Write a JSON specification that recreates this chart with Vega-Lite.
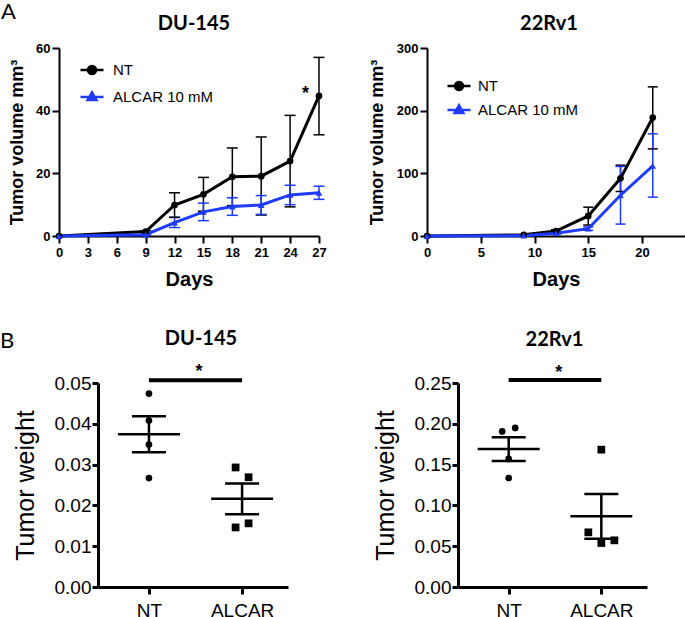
{
  "$schema": "https://vega.github.io/schema/vega-lite/v6.json",
  "padding": {"left": 0, "top": 0, "right": 0, "bottom": 0},
  "config": {
    "view": {"stroke": null},
    "axis": {"grid": false, "domainColor": "black", "tickColor": "black", "labelColor": "black", "titleColor": "black", "labelOverlap": false},
    "title": {"color": "black"}
  },
  "datasets": {
    "growth": [
      {"line": "DU-145", "group": "NT", "day": 0, "mean": 0, "lo": 0, "hi": 0},
      {"line": "DU-145", "group": "NT", "day": 9, "mean": 1.4, "lo": 1.1, "hi": 1.7},
      {"line": "DU-145", "group": "NT", "day": 12, "mean": 9.9, "lo": 6.0, "hi": 13.8},
      {"line": "DU-145", "group": "NT", "day": 15, "mean": 13.3, "lo": 7.9, "hi": 18.7},
      {"line": "DU-145", "group": "NT", "day": 18, "mean": 18.9, "lo": 9.7, "hi": 28.1},
      {"line": "DU-145", "group": "NT", "day": 21, "mean": 19.1, "lo": 6.7, "hi": 31.6},
      {"line": "DU-145", "group": "NT", "day": 24, "mean": 23.9, "lo": 9.3, "hi": 38.5},
      {"line": "DU-145", "group": "NT", "day": 27, "mean": 44.7, "lo": 32.3, "hi": 57.0},
      {"line": "DU-145", "group": "ALCAR 10 mM", "day": 0, "mean": 0, "lo": 0, "hi": 0},
      {"line": "DU-145", "group": "ALCAR 10 mM", "day": 9, "mean": 0.4, "lo": 0.2, "hi": 0.6},
      {"line": "DU-145", "group": "ALCAR 10 mM", "day": 12, "mean": 4.3, "lo": 2.7, "hi": 5.9},
      {"line": "DU-145", "group": "ALCAR 10 mM", "day": 15, "mean": 7.7, "lo": 4.9, "hi": 10.5},
      {"line": "DU-145", "group": "ALCAR 10 mM", "day": 18, "mean": 9.4, "lo": 6.6, "hi": 12.2},
      {"line": "DU-145", "group": "ALCAR 10 mM", "day": 21, "mean": 9.9, "lo": 6.9, "hi": 12.9},
      {"line": "DU-145", "group": "ALCAR 10 mM", "day": 24, "mean": 13.1, "lo": 10.0, "hi": 16.2},
      {"line": "DU-145", "group": "ALCAR 10 mM", "day": 27, "mean": 13.8, "lo": 11.7, "hi": 15.9},
      {"line": "22Rv1", "group": "NT", "day": 0, "mean": 0, "lo": 0, "hi": 0},
      {"line": "22Rv1", "group": "NT", "day": 9, "mean": 2, "lo": 1, "hi": 3},
      {"line": "22Rv1", "group": "NT", "day": 12, "mean": 8, "lo": 6, "hi": 10},
      {"line": "22Rv1", "group": "NT", "day": 15, "mean": 32, "lo": 17.5, "hi": 46},
      {"line": "22Rv1", "group": "NT", "day": 18, "mean": 92, "lo": 71, "hi": 113},
      {"line": "22Rv1", "group": "NT", "day": 21, "mean": 189, "lo": 139, "hi": 238},
      {"line": "22Rv1", "group": "ALCAR 10 mM", "day": 0, "mean": 0, "lo": 0, "hi": 0},
      {"line": "22Rv1", "group": "ALCAR 10 mM", "day": 9, "mean": 0.5, "lo": 0, "hi": 1},
      {"line": "22Rv1", "group": "ALCAR 10 mM", "day": 12, "mean": 4.5, "lo": 3, "hi": 6},
      {"line": "22Rv1", "group": "ALCAR 10 mM", "day": 15, "mean": 11.7, "lo": 9, "hi": 14.5},
      {"line": "22Rv1", "group": "ALCAR 10 mM", "day": 18, "mean": 65, "lo": 19, "hi": 111},
      {"line": "22Rv1", "group": "ALCAR 10 mM", "day": 21, "mean": 112, "lo": 62, "hi": 163}
    ],
    "weight": [
      {"line": "DU-145", "group": "NT", "w": 0.0474, "jit": "C"},
      {"line": "DU-145", "group": "NT", "w": 0.0408, "jit": "C"},
      {"line": "DU-145", "group": "NT", "w": 0.0349, "jit": "C"},
      {"line": "DU-145", "group": "NT", "w": 0.0267, "jit": "C"},
      {"line": "DU-145", "group": "ALCAR", "w": 0.0293, "jit": "L1"},
      {"line": "DU-145", "group": "ALCAR", "w": 0.0269, "jit": "R1"},
      {"line": "DU-145", "group": "ALCAR", "w": 0.0156, "jit": "R1"},
      {"line": "DU-145", "group": "ALCAR", "w": 0.0146, "jit": "L1"},
      {"line": "22Rv1", "group": "NT", "w": 0.1907, "jit": "L1"},
      {"line": "22Rv1", "group": "NT", "w": 0.1949, "jit": "R1"},
      {"line": "22Rv1", "group": "NT", "w": 0.1569, "jit": "C"},
      {"line": "22Rv1", "group": "NT", "w": 0.1336, "jit": "C"},
      {"line": "22Rv1", "group": "ALCAR", "w": 0.1683, "jit": "C"},
      {"line": "22Rv1", "group": "ALCAR", "w": 0.0670, "jit": "L2"},
      {"line": "22Rv1", "group": "ALCAR", "w": 0.0539, "jit": "C"},
      {"line": "22Rv1", "group": "ALCAR", "w": 0.0572, "jit": "R2"}
    ],
    "sig": [
      {"line": "DU-145", "from": "NT", "to": "ALCAR", "bar": 0.0507, "star": 0.0515, "label": "*"},
      {"line": "22Rv1", "from": "NT", "to": "ALCAR", "bar": 0.2537, "star": 0.256, "label": "*"}
    ],
    "gstar": [
      {"line": "DU-145", "day": 25.6, "mean": 43.8, "label": "*"}
    ]
  },
  "columns": 1,
  "bounds": "full",
  "spacing": 39,
  "concat": [
    {
      "title": {"text": "A", "anchor": "start", "frame": "bounds", "font": "Lato", "fontSize": 22, "fontWeight": "normal", "offset": -9.5, "dx": -7},
      "bounds": "flush",
      "spacing": 108,
      "resolve": {"legend": {"color": "independent"}},
      "hconcat": [
        {
          "width": 260, "height": 188,
          "title": {"text": "DU-145", "font": "Lato", "fontSize": 20, "fontWeight": "bold", "offset": 8, "dx": 5},
          "encoding": {
            "x": {"field": "day", "type": "quantitative", "scale": {"domain": [0, 27], "nice": false},
              "axis": {"values": [0, 3, 6, 9, 12, 15, 18, 21, 24, 27], "labelOverlap": false, "title": "Days", "titleFont": "Liberation Sans", "titleFontSize": 20, "titleFontWeight": "bold", "labelFont": "Liberation Sans", "labelFontSize": 13, "labelFontWeight": "bold", "tickSize": 7, "tickWidth": 2, "domainWidth": 2, "labelPadding": 3, "titlePadding": 10, "labelFlush": false}}
          },
          "layer": [
            {
              "data": {"name": "growth"},
              "transform": [{"filter": "datum.line == 'DU-145'"}],
              "mark": {"type": "rule", "strokeWidth": 1.5},
              "encoding": {
                "y": {"field": "lo", "type": "quantitative", "title": "Tumor volume mm³"},
                "y2": {"field": "hi"},
                "color": {"field": "group", "type": "nominal"}
              }
            },
            {
              "data": {"name": "growth"},
              "transform": [{"filter": "datum.line == 'DU-145' && datum.day > 0"}],
              "mark": {"type": "tick", "orient": "horizontal", "size": 11, "thickness": 1.5, "opacity": 1},
              "encoding": {
                "y": {"field": "hi", "type": "quantitative", "title": "Tumor volume mm³"},
                "color": {"field": "group", "type": "nominal"}
              }
            },
            {
              "data": {"name": "growth"},
              "transform": [{"filter": "datum.line == 'DU-145' && datum.day > 0"}],
              "mark": {"type": "tick", "orient": "horizontal", "size": 11, "thickness": 1.5, "opacity": 1},
              "encoding": {
                "y": {"field": "lo", "type": "quantitative", "title": "Tumor volume mm³"},
                "color": {"field": "group", "type": "nominal"}
              }
            },
            {
              "data": {"name": "growth"},
              "transform": [{"filter": "datum.line == 'DU-145'"}],
              "mark": {"type": "line", "strokeWidth": 3},
              "encoding": {
                "y": {"field": "mean", "type": "quantitative", "scale": {"domain": [0, 60], "nice": false},
                  "axis": {"values": [0, 20, 40, 60], "labelOverlap": false, "title": "Tumor volume mm³", "titleFont": "Liberation Sans", "titleFontSize": 18, "titleFontWeight": "bold", "labelFont": "Liberation Sans", "labelFontSize": 13, "labelFontWeight": "bold", "tickSize": 7, "tickWidth": 2, "domainWidth": 2, "labelPadding": 2, "minExtent": 24, "maxExtent": 24, "titlePadding": 9, "labelFlush": false}},
                "color": {"field": "group", "type": "nominal",
                  "scale": {"domain": ["NT", "ALCAR 10 mM"], "range": ["#000000", "#1e3cff"]},
                  "legend": {"title": null, "orient": "none", "legendX": 20, "legendY": 9, "padding": 0, "rowPadding": 4, "labelOffset": 8, "labelFont": "Liberation Sans", "labelFontSize": 15, "labelColor": "black", "symbolSize": 529, "symbolStrokeWidth": 2.5,
                    "encode": {"symbols": {"update": {
                      "shape": {"signal": "datum.value == 'NT' ? 'M-1,0H1M-0.35,0A0.35,0.35,0,1,0,0.35,0A0.35,0.35,0,1,0,-0.35,0Z' : 'M-1,0H1M0,-0.4L0.38,0.27L-0.38,0.27Z'"},
                      "fill": {"signal": "datum.value == 'NT' ? '#000000' : '#1e3cff'"},
                      "stroke": {"signal": "datum.value == 'NT' ? '#000000' : '#1e3cff'"},
                      "strokeWidth": {"value": 2.5},
                      "opacity": {"value": 1}
                    }}}}}
              }
            },
            {
              "data": {"name": "growth"},
              "transform": [{"filter": "datum.line == 'DU-145' && datum.group == 'NT'"}],
              "mark": {"type": "point", "filled": true, "opacity": 1, "size": 45, "shape": "circle"},
              "encoding": {
                "y": {"field": "mean", "type": "quantitative", "title": "Tumor volume mm³"},
                "color": {"field": "group", "type": "nominal"}
              }
            },
            {
              "data": {"name": "growth"},
              "transform": [{"filter": "datum.line == 'DU-145' && datum.group != 'NT'"}],
              "mark": {"type": "point", "filled": true, "opacity": 1, "size": 45, "shape": "triangle-up"},
              "encoding": {
                "y": {"field": "mean", "type": "quantitative", "title": "Tumor volume mm³"},
                "color": {"field": "group", "type": "nominal"}
              }
            },
            {
              "data": {"name": "gstar"},
              "mark": {"type": "text", "font": "Liberation Sans", "fontSize": 18, "fontWeight": "bold", "baseline": "alphabetic", "align": "center", "color": "black"},
              "encoding": {
                "y": {"field": "mean", "type": "quantitative", "title": "Tumor volume mm³"},
                "text": {"field": "label"}
              }
            }
          ]
        },
        {
          "width": 258, "height": 188,
          "title": {"text": "22Rv1", "font": "Lato", "fontSize": 20, "fontWeight": "bold", "offset": 8, "frame": "group", "dx": -7},
          "encoding": {
            "x": {"field": "day", "type": "quantitative", "scale": {"domain": [0, 24], "nice": false},
              "axis": {"values": [0, 5, 10, 15, 20], "labelOverlap": false, "title": "Days", "titleFont": "Liberation Sans", "titleFontSize": 20, "titleFontWeight": "bold", "labelFont": "Liberation Sans", "labelFontSize": 13, "labelFontWeight": "bold", "tickSize": 7, "tickWidth": 2, "domainWidth": 2, "labelPadding": 3, "titlePadding": 10, "labelFlush": false}}
          },
          "layer": [
            {
              "data": {"name": "growth"},
              "transform": [{"filter": "datum.line == '22Rv1'"}],
              "mark": {"type": "rule", "strokeWidth": 1.5},
              "encoding": {
                "y": {"field": "lo", "type": "quantitative", "title": "Tumor volume mm³"},
                "y2": {"field": "hi"},
                "color": {"field": "group", "type": "nominal"}
              }
            },
            {
              "data": {"name": "growth"},
              "transform": [{"filter": "datum.line == '22Rv1' && datum.day > 9"}],
              "mark": {"type": "tick", "orient": "horizontal", "size": 10, "thickness": 1.5, "opacity": 1},
              "encoding": {
                "y": {"field": "hi", "type": "quantitative", "title": "Tumor volume mm³"},
                "color": {"field": "group", "type": "nominal"}
              }
            },
            {
              "data": {"name": "growth"},
              "transform": [{"filter": "datum.line == '22Rv1' && datum.day > 9"}],
              "mark": {"type": "tick", "orient": "horizontal", "size": 10, "thickness": 1.5, "opacity": 1},
              "encoding": {
                "y": {"field": "lo", "type": "quantitative", "title": "Tumor volume mm³"},
                "color": {"field": "group", "type": "nominal"}
              }
            },
            {
              "data": {"name": "growth"},
              "transform": [{"filter": "datum.line == '22Rv1'"}],
              "mark": {"type": "line", "strokeWidth": 3},
              "encoding": {
                "y": {"field": "mean", "type": "quantitative", "scale": {"domain": [0, 300], "nice": false},
                  "axis": {"values": [0, 100, 200, 300], "labelOverlap": false, "title": "Tumor volume mm³", "titleFont": "Liberation Sans", "titleFontSize": 18, "titleFontWeight": "bold", "labelFont": "Liberation Sans", "labelFontSize": 13, "labelFontWeight": "bold", "tickSize": 7, "tickWidth": 2, "domainWidth": 2, "labelPadding": 2, "minExtent": 32, "maxExtent": 32, "titlePadding": 9, "labelFlush": false}},
                "color": {"field": "group", "type": "nominal",
                  "scale": {"domain": ["NT", "ALCAR 10 mM"], "range": ["#000000", "#1e3cff"]},
                  "legend": {"title": null, "orient": "none", "legendX": 19, "legendY": 25, "padding": 0, "rowPadding": 1, "labelOffset": 6, "labelFont": "Liberation Sans", "labelFontSize": 15, "labelColor": "black", "symbolSize": 529, "symbolStrokeWidth": 2.5,
                    "encode": {"symbols": {"update": {
                      "shape": {"signal": "datum.value == 'NT' ? 'M-1,0H1M-0.35,0A0.35,0.35,0,1,0,0.35,0A0.35,0.35,0,1,0,-0.35,0Z' : 'M-1,0H1M0,-0.4L0.38,0.27L-0.38,0.27Z'"},
                      "fill": {"signal": "datum.value == 'NT' ? '#000000' : '#1e3cff'"},
                      "stroke": {"signal": "datum.value == 'NT' ? '#000000' : '#1e3cff'"},
                      "strokeWidth": {"value": 2.5},
                      "opacity": {"value": 1}
                    }}}}}
              }
            },
            {
              "data": {"name": "growth"},
              "transform": [{"filter": "datum.line == '22Rv1' && datum.group == 'NT'"}],
              "mark": {"type": "point", "filled": true, "opacity": 1, "size": 45, "shape": "circle"},
              "encoding": {
                "y": {"field": "mean", "type": "quantitative", "title": "Tumor volume mm³"},
                "color": {"field": "group", "type": "nominal"}
              }
            },
            {
              "data": {"name": "growth"},
              "transform": [{"filter": "datum.line == '22Rv1' && datum.group != 'NT'"}],
              "mark": {"type": "point", "filled": true, "opacity": 1, "size": 45, "shape": "triangle-up"},
              "encoding": {
                "y": {"field": "mean", "type": "quantitative", "title": "Tumor volume mm³"},
                "color": {"field": "group", "type": "nominal"}
              }
            }
          ]
        }
      ]
    },
    {
      "title": {"text": "B", "anchor": "start", "frame": "bounds", "font": "Lato", "fontSize": 22, "fontWeight": "normal", "offset": -24, "dx": -13},
      "bounds": "flush",
      "spacing": 38,
      "hconcat": [
        {
          "width": 1, "height": 1,
          "data": {"values": [{}]},
          "mark": {"type": "point", "opacity": 0}
        },
        {
          "bounds": "flush",
          "spacing": 170,
          "hconcat": [
            {
              "width": 190, "height": 204,
              "title": {"text": "DU-145", "font": "Lato", "fontSize": 20, "fontWeight": "bold", "offset": 14, "dx": 8},
              "layer": [
                {
                  "data": {"name": "weight"},
                  "transform": [{"filter": "datum.line == 'DU-145' && datum.group == 'NT'"}],
                  "mark": {"type": "point", "filled": true, "opacity": 1, "color": "black", "shape": "circle", "size": 45},
                  "encoding": {
                    "x": {"field": "group", "type": "nominal", "scale": {"type": "point", "domain": ["NT", "ALCAR"], "padding": 0.52, "align": 0.526},
                      "axis": {"title": null, "labelAngle": 0, "labelFont": "Liberation Sans", "labelFontSize": 19, "tickSize": 7, "tickWidth": 3, "domainWidth": 3, "labelPadding": 7}},
                    "xOffset": {"field": "jit", "type": "nominal", "scale": {"type": "point", "domain": ["L2", "L1", "C", "R1", "R2"], "range": [-13, 13], "padding": 0}},
                    "y": {"field": "w", "type": "quantitative", "title": "Tumor weight", "scale": {"domain": [0, 0.05], "nice": false},
                      "axis": {"values": [0, 0.01, 0.02, 0.03, 0.04, 0.05], "format": ".2f", "title": "Tumor weight", "titleFont": "Liberation Sans", "titleFontSize": 25, "titleFontWeight": "normal", "labelFont": "Liberation Sans", "labelFontSize": 19, "tickSize": 6, "tickWidth": 3, "domainWidth": 3, "labelPadding": 1, "minExtent": 44, "maxExtent": 44, "titlePadding": 16, "labelFlush": false}}
                  }
                },
                {
                  "data": {"name": "weight"},
                  "transform": [{"filter": "datum.line == 'DU-145' && datum.group == 'ALCAR'"}],
                  "mark": {"type": "point", "filled": true, "opacity": 1, "color": "black", "shape": "square", "size": 60},
                  "encoding": {
                    "x": {"field": "group", "type": "nominal"},
                    "xOffset": {"field": "jit", "type": "nominal", "scale": {"type": "point", "domain": ["L2", "L1", "C", "R1", "R2"], "range": [-13, 13], "padding": 0}},
                    "y": {"field": "w", "type": "quantitative", "title": "Tumor weight"}
                  }
                },
                {
                  "data": {"name": "weight"},
                  "transform": [{"filter": "datum.line == 'DU-145'"}],
                  "mark": {"type": "tick", "orient": "horizontal", "size": 62, "thickness": 2.5, "color": "black", "opacity": 1},
                  "encoding": {
                    "x": {"field": "group", "type": "nominal"},
                    "y": {"aggregate": "mean", "field": "w", "type": "quantitative", "title": "Tumor weight"}
                  }
                },
                {
                  "data": {"name": "weight"},
                  "transform": [{"filter": "datum.line == 'DU-145'"}],
                  "mark": {"type": "errorbar", "extent": "stderr", "ticks": {"size": 34, "thickness": 2.5, "color": "black", "opacity": 1}, "rule": {"strokeWidth": 2.5, "color": "black"}},
                  "encoding": {
                    "x": {"field": "group", "type": "nominal"},
                    "y": {"field": "w", "type": "quantitative", "title": "Tumor weight"}
                  }
                },
                {
                  "data": {"name": "sig"},
                  "transform": [{"filter": "datum.line == 'DU-145'"}],
                  "mark": {"type": "rule", "strokeWidth": 4, "color": "black"},
                  "encoding": {
                    "x": {"field": "from", "type": "nominal", "title": null},
                    "x2": {"field": "to"},
                    "y": {"field": "bar", "type": "quantitative", "title": "Tumor weight"}
                  }
                },
                {
                  "data": {"name": "sig"},
                  "transform": [{"filter": "datum.line == 'DU-145'"}],
                  "mark": {"type": "text", "font": "Liberation Sans", "fontSize": 18, "fontWeight": "bold", "baseline": "alphabetic", "align": "center", "dx": 50, "color": "black"},
                  "encoding": {
                    "x": {"field": "from", "type": "nominal", "title": null},
                    "y": {"field": "star", "type": "quantitative", "title": "Tumor weight"},
                    "text": {"field": "label"}
                  }
                }
              ]
            },
            {
              "width": 189, "height": 204,
              "title": {"text": "22Rv1", "font": "Lato", "fontSize": 20, "fontWeight": "bold", "offset": 14, "dx": 2},
              "layer": [
                {
                  "data": {"name": "weight"},
                  "transform": [{"filter": "datum.line == '22Rv1' && datum.group == 'NT'"}],
                  "mark": {"type": "point", "filled": true, "opacity": 1, "color": "black", "shape": "circle", "size": 45},
                  "encoding": {
                    "x": {"field": "group", "type": "nominal", "scale": {"type": "point", "domain": ["NT", "ALCAR"], "padding": 0.52, "align": 0.526},
                      "axis": {"title": null, "labelAngle": 0, "labelFont": "Liberation Sans", "labelFontSize": 19, "tickSize": 7, "tickWidth": 3, "domainWidth": 3, "labelPadding": 7}},
                    "xOffset": {"field": "jit", "type": "nominal", "scale": {"type": "point", "domain": ["L2", "L1", "C", "R1", "R2"], "range": [-13, 13], "padding": 0}},
                    "y": {"field": "w", "type": "quantitative", "title": "Tumor weight", "scale": {"domain": [0, 0.25], "nice": false},
                      "axis": {"values": [0, 0.05, 0.1, 0.15, 0.2, 0.25], "format": ".2f", "title": "Tumor weight", "titleFont": "Liberation Sans", "titleFontSize": 25, "titleFontWeight": "normal", "labelFont": "Liberation Sans", "labelFontSize": 19, "tickSize": 6, "tickWidth": 3, "domainWidth": 3, "labelPadding": 1, "minExtent": 44, "maxExtent": 44, "titlePadding": 16, "labelFlush": false}}
                  }
                },
                {
                  "data": {"name": "weight"},
                  "transform": [{"filter": "datum.line == '22Rv1' && datum.group == 'ALCAR'"}],
                  "mark": {"type": "point", "filled": true, "opacity": 1, "color": "black", "shape": "square", "size": 60},
                  "encoding": {
                    "x": {"field": "group", "type": "nominal"},
                    "xOffset": {"field": "jit", "type": "nominal", "scale": {"type": "point", "domain": ["L2", "L1", "C", "R1", "R2"], "range": [-13, 13], "padding": 0}},
                    "y": {"field": "w", "type": "quantitative", "title": "Tumor weight"}
                  }
                },
                {
                  "data": {"name": "weight"},
                  "transform": [{"filter": "datum.line == '22Rv1'"}],
                  "mark": {"type": "tick", "orient": "horizontal", "size": 62, "thickness": 2.5, "color": "black", "opacity": 1},
                  "encoding": {
                    "x": {"field": "group", "type": "nominal"},
                    "y": {"aggregate": "mean", "field": "w", "type": "quantitative", "title": "Tumor weight"}
                  }
                },
                {
                  "data": {"name": "weight"},
                  "transform": [{"filter": "datum.line == '22Rv1'"}],
                  "mark": {"type": "errorbar", "extent": "stderr", "ticks": {"size": 34, "thickness": 2.5, "color": "black", "opacity": 1}, "rule": {"strokeWidth": 2.5, "color": "black"}},
                  "encoding": {
                    "x": {"field": "group", "type": "nominal"},
                    "y": {"field": "w", "type": "quantitative", "title": "Tumor weight"}
                  }
                },
                {
                  "data": {"name": "sig"},
                  "transform": [{"filter": "datum.line == '22Rv1'"}],
                  "mark": {"type": "rule", "strokeWidth": 4, "color": "black"},
                  "encoding": {
                    "x": {"field": "from", "type": "nominal", "title": null},
                    "x2": {"field": "to"},
                    "y": {"field": "bar", "type": "quantitative", "title": "Tumor weight"}
                  }
                },
                {
                  "data": {"name": "sig"},
                  "transform": [{"filter": "datum.line == '22Rv1'"}],
                  "mark": {"type": "text", "font": "Liberation Sans", "fontSize": 18, "fontWeight": "bold", "baseline": "alphabetic", "align": "center", "dx": 50, "color": "black"},
                  "encoding": {
                    "x": {"field": "from", "type": "nominal", "title": null},
                    "y": {"field": "star", "type": "quantitative", "title": "Tumor weight"},
                    "text": {"field": "label"}
                  }
                }
              ]
            }
          ]
        }
      ]
    }
  ]
}
